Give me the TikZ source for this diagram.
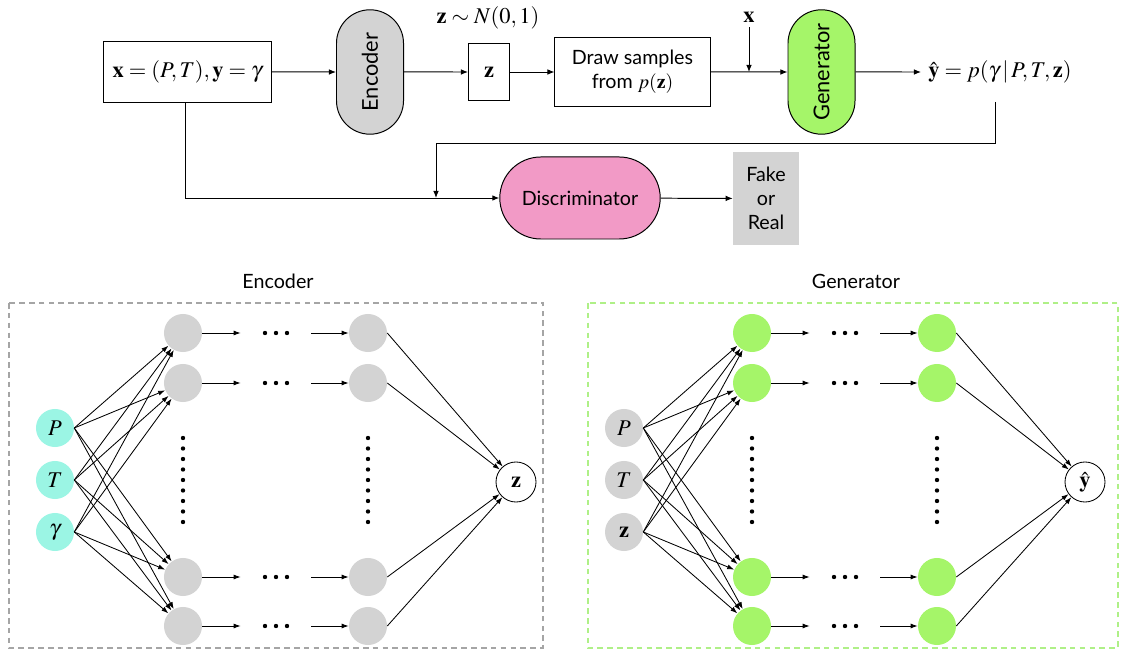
\documentclass[tikz,border=0pt]{standalone}
\usepackage{mathptmx}
\usepackage[no-math]{fontspec}
\setmainfont{Lato}
\usetikzlibrary{shapes.misc, arrows.meta}
\definecolor{encgray}{RGB}{211,211,211}
\definecolor{gengreen}{RGB}{165,245,105}
\definecolor{incyan}{RGB}{155,245,228}
\definecolor{discpink}{RGB}{242,154,198}
\definecolor{framegray}{RGB}{165,165,165}
\definecolor{framegreen}{RGB}{175,240,135}
\tikzstyle{mathlbl} = [font=\fontsize{16}{19}\selectfont]
\tikzstyle{block} = [draw=black, line width=.7pt, fill=white, inner sep=2pt]
\tikzstyle{pill} = [rounded rectangle, draw=black, line width=.7pt, inner sep=2pt]
\tikzstyle{upright} = [pill, minimum width=3.25cm, minimum height=1.675cm, rotate=90, font=\fontsize{15.5}{18}\selectfont]
\tikzstyle{conn} = [draw, line width=.7pt, -{Latex[length=5pt,width=4pt]}]
\tikzstyle{link} = [draw, line width=.6pt, -{Latex[length=5pt,width=3.5pt]}]
\tikzstyle{unit} = [circle, minimum size=0.95cm, inner sep=0pt, mathlbl]
\tikzstyle{enc_in} = [unit, fill=incyan]
\tikzstyle{enc_hid} = [unit, fill=encgray]
\tikzstyle{gen_in} = [unit, fill=encgray]
\tikzstyle{gen_hid} = [unit, fill=gengreen]
\tikzstyle{outunit} = [unit, minimum size=1cm, draw=black, line width=.6pt, fill=white]
\tikzstyle{gap} = [minimum width=1.75cm, inner sep=0pt]
\tikzstyle{frame} = [line width=.8pt, dash pattern=on 4pt off 3pt]

\begin{document}
\begin{tikzpicture}[x=0.025cm, y=-0.025cm, font=\fontsize{14}{17}\selectfont]
\useasboundingbox (0,0) rectangle (1124,661);

% top row
\node[block, mathlbl, minimum width=4.2cm, minimum height=1.5cm] (xy) at (187.5,72) {$\mathbf{x}=(P,T),\mathbf{y}=\gamma$};
\node[upright, fill=encgray] (enc) at (370,72) {Encoder};
\node[mathlbl] (prior) at (488,18) {$\mathbf{z}\sim N(0,1)$};
\node[block, mathlbl, minimum width=1.025cm, minimum height=1.4cm] (zbox) at (489,72) {$\mathbf{z}$};
\node[block, minimum width=3.875cm, minimum height=1.725cm, align=center] (draw) at (632.5,72) {Draw samples\\from $p(\mathbf{z})$};
\node[mathlbl] (xin) at (749,17) {$\mathbf{x}$};
\coordinate (xjoin) at (749,72);
\node[upright, fill=gengreen] (gen) at (821.5,72) {Generator};
\node[mathlbl, anchor=west, inner xsep=5pt, inner ysep=0pt] (yhat) at (921,72) {$\hat{\mathbf{y}}=p(\gamma\,|\,P,T,\mathbf{z})$};

\draw[conn] (xy) -- (enc);
\draw[conn] (enc) -- (zbox);
\draw[conn] (zbox) -- (draw);
\draw[conn] (draw) -- (gen);
\draw[conn] (xin) -- (xjoin);
\draw[conn] (gen) -- (yhat);

% discriminator row
\node[pill, fill=discpink, minimum width=4.15cm, minimum height=2.05cm] (disc) at (580,198) {Discriminator};
\node[fill=encgray, minimum width=1.65cm, minimum height=2.325cm, align=center, inner sep=0pt] (fake) at (766,198.5) {Fake\\or\\Real};
\coordinate (fb) at (995,102);
\coordinate (turn) at (436,143);
\coordinate (join) at (436,198);

\draw[conn] (xy.south -| 185,0) |- (disc);
\draw[conn] (fb) |- (turn) -- (join);
\draw[conn] (disc) -- (fake);

% encoder network
\node (enc_title) at (278,281) {Encoder};
\draw[frame, framegray] (9,303) rectangle (543,648);

\node[enc_in] (e_P) at (55,428) {$P$};
\node[enc_in] (e_T) at (55,480) {$T$};
\node[enc_in] (e_g) at (55,532) {$\gamma$};
\node[outunit] (e_z) at (516,482) {$\mathbf{z}$};

\foreach \t/\y in {1/333, 2/383, 3/577, 4/626}{
	\node[enc_hid] (e_h\t) at (183,\y) {};
	\node[gap] (e_d\t) at (276,\y) {};
	\node[enc_hid] (e_o\t) at (368,\y) {};
	\foreach \dx in {-11,0,11}
		\fill (e_d\t) ++(\dx,0) circle[radius=0.055cm];
	\draw[link] (e_h\t) -- (e_d\t);
	\draw[link] (e_d\t) -- (e_o\t);
	\draw[link] (e_o\t.east) -- (e_z);
}

\foreach \s in {P, T, g}{
	\foreach \t in {1,...,4}
		\draw[link] (e_\s.east) -- (e_h\t);
}

\foreach \k in {0,...,8}{
	\fill (183,438+10.5*\k) circle[radius=0.055cm];
	\fill (368,438+10.5*\k) circle[radius=0.055cm];
}

% generator network
\node (gen_title) at (856,281) {Generator};
\draw[frame, framegreen] (588,303) rectangle (1118,648);

\node[gen_in] (g_P) at (624,428) {$P$};
\node[gen_in] (g_T) at (624,480) {$T$};
\node[gen_in] (g_z) at (624,532) {$\mathbf{z}$};
\node[outunit] (g_y) at (1085,482) {$\hat{\mathbf{y}}$};

\foreach \t/\y in {1/333, 2/383, 3/577, 4/626}{
	\node[gen_hid] (g_h\t) at (752,\y) {};
	\node[gap] (g_d\t) at (845,\y) {};
	\node[gen_hid] (g_o\t) at (937,\y) {};
	\foreach \dx in {-11,0,11}
		\fill (g_d\t) ++(\dx,0) circle[radius=0.055cm];
	\draw[link] (g_h\t) -- (g_d\t);
	\draw[link] (g_d\t) -- (g_o\t);
	\draw[link] (g_o\t.east) -- (g_y);
}

\foreach \s in {P, T, z}{
	\foreach \t in {1,...,4}
		\draw[link] (g_\s.east) -- (g_h\t);
}

\foreach \k in {0,...,8}{
	\fill (752,438+10.5*\k) circle[radius=0.055cm];
	\fill (937,438+10.5*\k) circle[radius=0.055cm];
}
\end{tikzpicture}
\end{document}
